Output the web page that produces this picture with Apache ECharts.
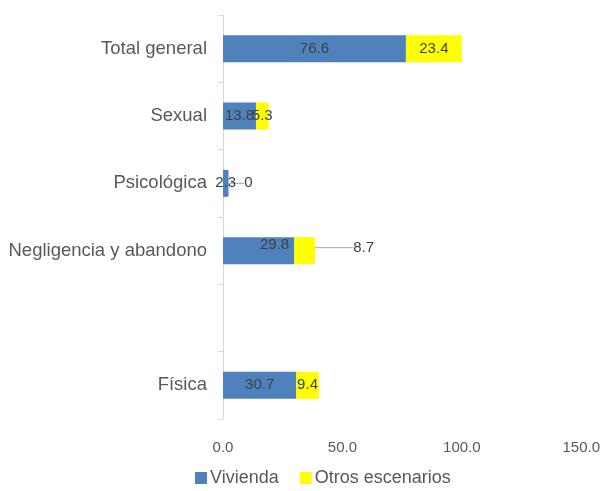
<!DOCTYPE html>
<html>
<head>
<meta charset="utf-8">
<script src="https://cdn.jsdelivr.net/npm/echarts@6/dist/echarts.min.js"></script>
<style>html,body{margin:0;padding:0;background:#fff}#c{width:603px;height:491px}</style>
</head>
<body>
<div id="c"></div>
<script>
const categories = ['Física', '', 'Negligencia y abandono', 'Psicológica', 'Sexual', 'Total general'];
const vivienda = [30.7, null, 29.8, 2.3, 13.8, 76.6];
const otros = [9.4, null, 8.7, 0, 5.3, 23.4];
const xTicks = [0, 50, 100, 150];

const FONT = '"Liberation Sans Narrow", "Arial Narrow", "Liberation Sans", sans-serif';
const chart = echarts.init(document.getElementById('c'));

const vivData = vivienda.map((v, i) => {
  if (categories[i] === 'Negligencia y abandono') {
    return { value: v, label: { position: 'insideRight', offset: [0, -6] } };
  }
  return v;
});

chart.setOption({
  animation: false,
  textStyle: { fontFamily: FONT },
  grid: { left: 223, right: 21, top: 15, bottom: 72, containLabel: false },
  legend: {
    top: 469,
    left: 195,
    itemWidth: 12,
    itemHeight: 12,
    itemGap: 21,
    icon: 'rect',
    padding: 0,
    textStyle: { fontFamily: FONT, fontSize: 18, color: '#595959', padding: [0, 0, 0, -2] },
    data: ['Vivienda', 'Otros escenarios']
  },
  xAxis: {
    type: 'value',
    min: xTicks[0],
    max: xTicks[xTicks.length - 1],
    interval: 50,
    axisLine: { show: false },
    axisTick: { show: false },
    splitLine: { show: false },
    axisLabel: { formatter: v => v.toFixed(1), color: '#595959', fontSize: 15, fontFamily: FONT, margin: 21 }
  },
  yAxis: {
    type: 'category',
    data: categories,
    axisLine: { show: true, lineStyle: { color: '#d9d9d9' } },
    axisTick: { show: true, length: 5, lineStyle: { color: '#d9d9d9' } },
    axisLabel: { color: '#595959', fontSize: 18.5, fontFamily: FONT, margin: 16 }
  },
  series: [
    {
      name: 'Vivienda',
      type: 'bar',
      stack: 'a',
      barWidth: 27,
      itemStyle: { color: '#4F81BD' },
      label: { show: true, position: 'inside', color: '#404040', fontSize: 15, fontFamily: FONT },
      data: vivData
    },
    {
      name: 'Otros escenarios',
      type: 'bar',
      stack: 'a',
      barWidth: 27,
      itemStyle: { color: '#FFFF00' },
      label: { show: true, position: 'inside', color: '#404040', fontSize: 15, fontFamily: FONT },
      labelLine: { show: true, lineStyle: { color: '#a6a6a6', width: 1 } },
      labelLayout: function (p) {
        const name = categories[p.dataIndex];
        if (name === 'Negligencia y abandono') return { dx: 59, dy: -3 };
        if (name === 'Psicológica') return { dx: 20, dy: 0 };
        return {};
      },
      data: otros
    }
  ]
});
</script>
</body>
</html>
